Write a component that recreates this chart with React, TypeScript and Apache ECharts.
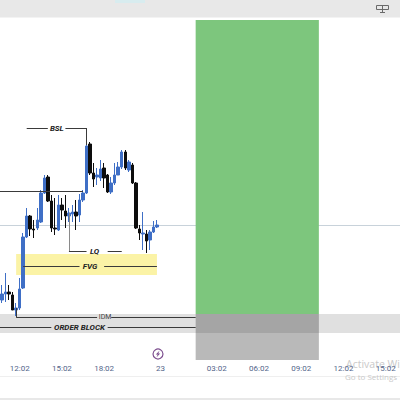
import React, { useEffect, useRef } from "react";
import * as echarts from "echarts";

// 15-minute candles, prices (axis runs 40..400).
const opens = [100, 106, 108, 105, 90, 92, 112, 163, 184, 171, 172, 178, 207, 223, 199, 172, 170, 195, 189, 184, 186, 188, 185, 200, 207, 256, 227, 223, 222, 232, 225, 208, 217, 225, 233, 248, 230, 235, 217, 171, 166, 166, 160, 168, 173];
const closes = [106, 108, 106, 90, 92, 111, 163, 184, 171, 170, 180, 207, 222, 199, 172, 171, 195, 190, 184, 187, 188, 184, 200, 207, 254, 227, 221, 225, 231, 222, 208, 217, 225, 233, 248, 232, 238, 217, 172, 167, 167, 159, 168, 173, 175];
const lows = [97, 98, 100, 90, 84, 90, 111, 162, 164, 162, 170, 177, 206, 198, 168, 165, 169, 180, 172, 178, 178, 170, 178, 198, 206, 225, 213, 215, 219, 212, 207, 206, 215, 226, 231, 230, 228, 216, 171, 160, 150, 147, 150, 167, 172];
const highs = [115, 127, 115, 108, 97, 122, 167, 192, 185, 180, 192, 210, 225, 225, 205, 202, 205, 202, 205, 192, 195, 200, 206, 210, 257, 258, 237, 232, 240, 237, 226, 223, 237, 238, 250, 250, 240, 237, 218, 175, 188, 170, 170, 179, 180];

const categoryCount = 116;
const firstCandle = 1;
const categories = Array.from({ length: categoryCount }, (_, i) => String(i));
const tickLabels: Record<number, string> = { 6: "12:02", 18: "15:02", 30: "18:02", 46: "23", 62: "03:02", 74: "06:02", 86: "09:02", 98: "12:02", 110: "15:02" };

// [from index, to index, from price, to price]
const zones = [
  [56, 91, 380, 86, "#7dc67d"],
  [56, 91, 86, 40, "#b9b9b9"],
  [0, 115, 86, 67, "rgba(60,60,60,0.16)"],
  [5, 45, 146, 125, "#fbf3a6"],
];
const blackLines = [
  [8, 14, 272, 272],
  [19, 25, 272, 272],
  [25, 25, 272, 255],
  [0, 24, 209, 209],
  [20, 25, 149, 149],
  [31, 35, 149, 149],
  [7, 23, 134, 134],
  [30, 45, 134, 134],
  [5, 28, 83, 83],
  [32, 56, 83, 83],
  [5, 5, 92, 83],
  [0, 15, 72.5, 72.5],
  [31, 56, 72.5, 72.5],
];
const greyLines = [[20, 20, 187, 149]];
const priceLine = [[0, 115, 175, 175]];
const notes = [
  ["BSL", 16, 272, 2, 8, true],
  ["LQ", 27, 149, 1, 8, true],
  ["FVG", 26, 134, 0, 8, true],
  ["IDM", 30, 83, 1, 7, false],
  ["ORDER BLOCK", 23, 72.5, 0, 8, true],
];

const toSegments = (rows: number[][]) =>
  rows.map((r) => [{ coord: [r[0], r[2]] }, { coord: [r[1], r[3]] }]);

const FONT = "Roboto, 'Open Sans', sans-serif";

export default function App() {
  const ref = useRef<HTMLDivElement>(null);
  useEffect(() => {
    const chart = echarts.init(ref.current!, null, { renderer: "svg" });
    const candleData = categories.map((_, i) => {
      const k = i - firstCandle;
      return k >= 0 && k < opens.length ? [opens[k], closes[k], lows[k], highs[k]] : "-";
    });
    const lineBase = { symbol: "none", silent: true, animation: false, label: { show: false } };
    chart.setOption({
      animation: false,
      backgroundColor: "#ffffff",
      grid: { left: -3.22, top: 0, width: 408.32, height: 360, containLabel: false, outerBoundsMode: "none" },
      xAxis: {
        type: "category",
        data: categories,
        boundaryGap: true,
        axisLine: { show: false },
        axisTick: { show: false },
        splitLine: { show: false },
        axisLabel: {
          interval: (i: number) => i in tickLabels,
          formatter: (_: string, i: number) => tickLabels[i] ?? "",
          margin: 4,
          fontSize: 8,
          fontFamily: FONT,
          color: "#53658a",
          hideOverlap: false,
        },
      },
      yAxis: { type: "value", min: 40, max: 400, show: false },
      series: [
        {
          type: "line",
          data: [],
          markLine: {
            ...lineBase,
            z: 0,
            lineStyle: { color: "#c8d2da", width: 1, type: "solid" },
            data: toSegments(priceLine),
          },
        },
        {
          type: "candlestick",
          data: candleData,
          barWidth: 3,
          itemStyle: { color: "#3f6fc6", color0: "#0d0d0d", borderColor: "#3f6fc6", borderColor0: "#0d0d0d", borderWidth: 1 },
          markArea: {
            silent: true,
            z: 1,
            label: { show: false },
            data: zones.map((z) => [
              { coord: [z[0], z[2]], itemStyle: { color: z[4] as string } },
              { coord: [z[1], z[3]] },
            ]),
          },
          markPoint: {
            silent: true,
            symbol: "circle",
            symbolSize: 1,
            itemStyle: { color: "rgba(0,0,0,0)" },
            data: notes.map((n) => ({
              name: n[0],
              coord: [n[1], n[2]],
              label: {
                show: true,
                position: "inside",
                offset: [n[3], 0],
                formatter: "{b}",
                fontFamily: FONT,
                fontSize: n[4],
                fontStyle: n[5] ? "italic" : "normal",
                fontWeight: n[5] ? "bold" : "normal",
                color: n[5] ? "#222" : "#444",
              },
            })),
          },
          markLine: {
            ...lineBase,
            z: 5,
            lineStyle: { color: "#3a3a3a", width: 1, type: "solid" },
            data: [
              ...toSegments(blackLines),
              ...toSegments(greyLines).map((s) => [
                { ...s[0], lineStyle: { color: "#8a8a8a", width: 1, type: "solid" } },
                s[1],
              ]),
            ],
          },
        },
      ],
      graphic: [
        { type: "rect", shape: { x: 0, y: 0, width: 400, height: 17.5 }, style: { fill: "#e8e8e8" } },
        { type: "rect", shape: { x: 115, y: 0, width: 30, height: 3 }, style: { fill: "#d8ecef" } },
        { type: "rect", shape: { x: 376.5, y: 5.5, width: 12, height: 4 }, style: { fill: "none", stroke: "#6a6a6a", lineWidth: 1 } },
        { type: "line", shape: { x1: 382.5, y1: 5.5, x2: 382.5, y2: 13 }, style: { stroke: "#6a6a6a", lineWidth: 1 } },
        { type: "line", shape: { x1: 380, y1: 12.5, x2: 385, y2: 12.5 }, style: { stroke: "#6a6a6a", lineWidth: 1 } },
        { type: "line", shape: { x1: 0, y1: 376.5, x2: 400, y2: 376.5 }, style: { stroke: "#efefef", lineWidth: 1 } },
        { type: "rect", shape: { x: 0, y: 398, width: 400, height: 2 }, style: { fill: "#e8e8e8" } },
        { type: "circle", shape: { cx: 158, cy: 354, r: 5 }, style: { fill: "#fff", stroke: "#7d4f8f", lineWidth: 1.2 } },
        { type: "polygon", shape: { points: [[159.6, 350.6], [155.8, 354.6], [157.7, 354.6], [156.4, 357.4], [160.2, 353.4], [158.3, 353.4]] }, style: { fill: "#7d4f8f" } },
        { type: "text", x: 346, y: 358, style: { text: "Activate Wi", fontFamily: "'Open Sans', sans-serif", fontSize: 10.5, fill: "#c9c9c9" } },
        { type: "text", x: 345, y: 372, style: { text: "Go to Settings", fontFamily: "'Open Sans', sans-serif", fontSize: 8, fill: "#c9c9c9" } },
      ],
    });
    return () => chart.dispose();
  }, []);
  return <div ref={ref} style={{ position: "fixed", left: 0, top: 0, width: 400, height: 400 }} />;
}
